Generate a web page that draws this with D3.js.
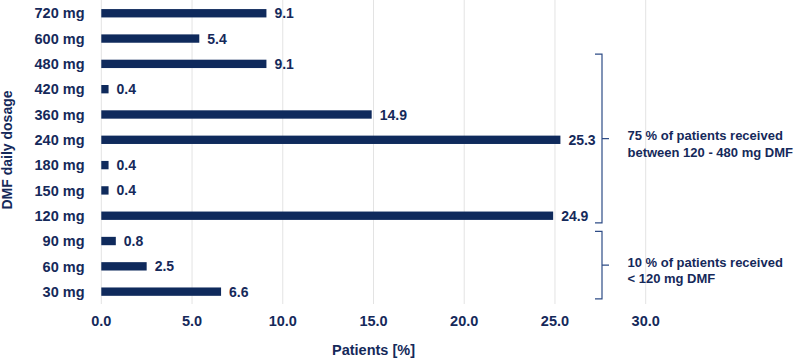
<!DOCTYPE html>
<html>
<head>
<meta charset="utf-8">
<script src="https://cdn.jsdelivr.net/npm/d3@7"></script>
<style>
  body { margin: 0; background: #fff; }
  svg { display: block; font-family: "Liberation Sans", Arial, sans-serif; }
</style>
</head>
<body>
<div id="chart"></div>
<script>
// Dosage categories, top to bottom, and share of patients (%)
const categories = ['720 mg', '600 mg', '480 mg', '420 mg', '360 mg', '240 mg',
  '180 mg', '150 mg', '120 mg', '90 mg', '60 mg', '30 mg'];
const patients = [9.1, 5.4, 9.1, 0.4, 14.9, 25.3, 0.4, 0.4, 24.9, 0.8, 2.5, 6.6];
const xTicks = [0, 5, 10, 15, 20, 25, 30];

// Bracket annotations: first / last category covered and label lines
const bracketFrom = ['480 mg', '90 mg'];
const bracketTo = ['120 mg', '30 mg'];
const bracketLines = [
  ['75 % of patients received', 'between 120 - 480 mg DMF'],
  ['10 % of patients received', '< 120 mg DMF'],
];

const W = 796, H = 361;
const NAVY = '#0f2a5c';
const TEXT = '#15295a';
const BRACKET = '#2e4c86';

const svg = d3.select('#chart').append('svg')
  .attr('width', W).attr('height', H);

const x = d3.scaleLinear().domain([0, 30]).range([101.3, 645.7]);
const y = d3.scaleBand().domain(categories).range([0.6, 304.3])
  .paddingInner(0.67).paddingOuter(0.335);

// vertical gridlines
svg.append('g').selectAll('line').data(xTicks).join('line')
  .attr('x1', d => x(d)).attr('x2', d => x(d))
  .attr('y1', 0).attr('y2', 304)
  .attr('stroke', '#e3e3e3').attr('stroke-width', 1);

// x tick labels
svg.append('g').selectAll('text').data(xTicks).join('text')
  .attr('x', d => x(d)).attr('y', 326)
  .attr('text-anchor', 'middle')
  .style('font-size', '14.5px').style('font-weight', 700).style('fill', TEXT)
  .text(d => d.toFixed(1));

// category labels
svg.append('g').selectAll('text').data(categories).join('text')
  .attr('x', 84.5).attr('y', d => y(d) + y.bandwidth() / 2)
  .attr('dy', '0.36em')
  .attr('text-anchor', 'end')
  .style('font-size', '14.5px').style('font-weight', 700).style('fill', TEXT)
  .text(d => d);

// bars
svg.append('g').selectAll('rect').data(categories).join('rect')
  .attr('x', x(0))
  .attr('y', d => y(d))
  .attr('width', (d, i) => x(patients[i]) - x(0))
  .attr('height', y.bandwidth())
  .attr('fill', NAVY);

// value labels
svg.append('g').selectAll('text').data(categories).join('text')
  .attr('x', (d, i) => x(patients[i]) + 8)
  .attr('y', d => y(d) + y.bandwidth() / 2)
  .attr('dy', '0.36em')
  .style('font-size', '14px').style('font-weight', 700).style('fill', TEXT)
  .text((d, i) => patients[i].toFixed(1));

// axis titles
svg.append('text')
  .attr('x', x(15)).attr('y', 355)
  .attr('text-anchor', 'middle')
  .style('font-size', '14.5px').style('font-weight', 700).style('fill', TEXT)
  .text('Patients [%]');

svg.append('text')
  .attr('transform', 'translate(12,150) rotate(-90)')
  .attr('text-anchor', 'middle')
  .style('font-size', '14px').style('font-weight', 700).style('fill', TEXT)
  .text('DMF daily dosage');

// brackets
const bx = 602;
bracketFrom.forEach((from, i) => {
  const top = y(from) - 5.5;
  const bot = y(bracketTo[i]) + y.bandwidth() + 3;
  const mid = (top + bot) / 2;
  svg.append('path')
    .attr('d', `M${bx - 7},${top} L${bx},${top} L${bx},${bot} L${bx - 7},${bot}`
      + ` M${bx},${mid} L${bx + 7},${mid}`)
    .attr('fill', 'none').attr('stroke', BRACKET).attr('stroke-width', 1.2);

  const t = svg.append('text')
    .style('font-size', '13px').style('font-weight', 700).style('fill', TEXT);
  bracketLines[i].forEach((line, j) => {
    t.append('tspan').attr('x', 627.5).attr('y', mid + 1.7 + j * 16.3).text(line);
  });
});
</script>
</body>
</html>
